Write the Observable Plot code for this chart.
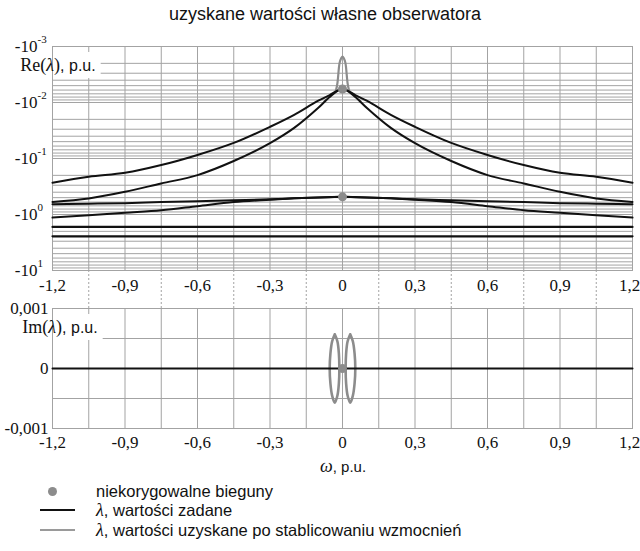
<!DOCTYPE html>
<html><head><meta charset="utf-8">
<script src="https://cdn.jsdelivr.net/npm/d3@7"></script>
<script src="https://cdn.jsdelivr.net/npm/@observablehq/plot@0.6"></script>
<style>
body{margin:0;background:#fff;}
#root{position:relative;width:640px;height:551px;overflow:hidden;background:#fff;}
.abs{position:absolute;white-space:nowrap;}
.sans{font-family:"Liberation Sans",Arial,sans-serif;}
.serif{font-family:"Liberation Serif","Times New Roman",serif;}
</style></head><body><div id="root"></div>
<script>
// ---- data ----
const omega = [-1.2,-1.05,-0.9,-0.75,-0.6,-0.45,-0.3,-0.2,-0.1,-0.05,0,0.05,0.1,0.2,0.3,0.45,0.6,0.75,0.9,1.05,1.2];
const reA = [0.272,0.212,0.180,0.131,0.0865,0.0527,0.0272,0.0166,0.0093,0.00726,0.00574,0.00726,0.0093,0.0166,0.0272,0.0527,0.0865,0.131,0.180,0.212,0.272];
const reB = [0.596,0.518,0.394,0.279,0.198,0.111,0.0533,0.0284,0.0124,0.00778,0.00574,0.00778,0.0124,0.0284,0.0533,0.111,0.198,0.279,0.394,0.518,0.596];
const reC = [0.655,0.64,0.628,0.60,0.578,0.555,0.535,0.515,0.497,0.49,0.484,0.49,0.497,0.515,0.535,0.555,0.578,0.60,0.628,0.64,0.655];
const reD = [1.135,1.03,0.93,0.84,0.71,0.60,0.545,0.515,0.495,0.488,0.484,0.488,0.495,0.515,0.545,0.60,0.71,0.84,0.93,1.03,1.135];
const omegaEnds = [-1.2, 1.2];
const reE = [1.67, 1.67];
const reF = [2.45, 2.45];
const omegaSpike = [-0.05,-0.03,-0.022,-0.012,-0.005,0,0.005,0.012,0.022,0.03,0.05];
const reSpike = [0.0073,0.0064,0.0048,0.00196,0.0016,0.00151,0.0016,0.00196,0.0048,0.0064,0.0073];
const poleOmega = [0, 0];
const poleRe = [0.00574, 0.484];
const poleIm = [0];
const imBlack = [0, 0];
const lensLeftOmega = [-0.032,-0.043,-0.05,-0.053,-0.05,-0.043,-0.032,-0.021,-0.015,-0.013,-0.015,-0.021,-0.032];
const lensRightOmega = [0.032,0.043,0.05,0.053,0.05,0.043,0.032,0.021,0.015,0.013,0.015,0.021,0.032];
const lensIm = [0.00057,0.00045,0.00025,0,-0.00025,-0.00045,-0.00057,-0.00045,-0.00025,0,0.00025,0.00045,0.00057];
// ticks
const xTicks = [-1.2,-0.9,-0.6,-0.3,0,0.3,0.6,0.9,1.2];
const xMidTicks = [-1.05,-0.75,-0.45,-0.15,0.15,0.45,0.75,1.05];
const xGrid = [-1.2,-1.05,-0.9,-0.75,-0.6,-0.45,-0.3,-0.15,0,0.15,0.3,0.45,0.6,0.75,0.9,1.05,1.2];
const reTickValues = [0.001,0.01,0.1,1,10];
const reTickExp = ["-3","-2","-1","0","1"];
const imTicks = [-0.001,0,0.001];
const imGrid = [-0.001,-0.0005,0,0.0005,0.001];

// ---- helpers ----
const SERIF = "'Liberation Serif', 'Times New Roman', serif";
const SANS = "'Liberation Sans', Arial, sans-serif";
const GRID = "#a3a3a3";
const BLACK = "#111";
const GRAY = "#8c8c8c";
const fmt = d => String(d).replace(".", ",");
const rows = (xs, ys) => xs.map((x, i) => ({x, y: ys[i]}));
const yGrid = d3.scaleLog().domain([0.001, 10]).ticks(10);
const svgStyle = {background: "transparent", overflow: "visible"};

const root = document.getElementById("root");

// title
const title = document.createElement("div");
title.className = "abs sans";
title.style.cssText = "left:0;width:650px;top:4px;text-align:center;font-size:18px;line-height:20px;color:#111;";
title.textContent = "uzyskane wartości własne obserwatora";
root.appendChild(title);

// ---- top panel ----
const topPlot = Plot.plot({
  width: 640, height: 278,
  marginLeft: 52, marginRight: 8, marginTop: 16, marginBottom: 38,
  style: svgStyle,
  x: {domain: [-1.2, 1.2], label: null},
  y: {type: "log", domain: [0.001, 10], reverse: true, label: null},
  marks: [
    Plot.gridY(yGrid, {stroke: GRID, strokeOpacity: 1}),
    Plot.gridX(xGrid, {stroke: GRID, strokeOpacity: 1}),
    Plot.frame({stroke: GRID}),
    Plot.axisX(xTicks, {tickSize: 0, tickPadding: 8, tickFormat: fmt, label: null}),
    Plot.axisX(xMidTicks, {tickSize: 38, tickFormat: () => "", stroke: GRID, strokeDasharray: "2,2", label: null}),
    Plot.axisY(reTickValues, {tickSize: 0, tickPadding: 15, tickFormat: () => "-10", label: null}),
    Plot.text(reTickValues, {y: d => d, text: (d, i) => reTickExp[i], frameAnchor: "left", dx: -15, dy: -7, textAnchor: "start", fill: "#111", className: "sup"}),
    Plot.line(rows(omegaSpike, reSpike), {x: "x", y: "y", stroke: GRAY, strokeWidth: 2.2, curve: "catmull-rom"}),
    Plot.line(rows(omega, reA), {x: "x", y: "y", stroke: BLACK, strokeWidth: 2, curve: "monotone-x"}),
    Plot.line(rows(omega, reB), {x: "x", y: "y", stroke: BLACK, strokeWidth: 2, curve: "monotone-x"}),
    Plot.line(rows(omega, reC), {x: "x", y: "y", stroke: BLACK, strokeWidth: 2, curve: "monotone-x"}),
    Plot.line(rows(omega, reD), {x: "x", y: "y", stroke: BLACK, strokeWidth: 2, curve: "monotone-x"}),
    Plot.line(rows(omegaEnds, reE), {x: "x", y: "y", stroke: BLACK, strokeWidth: 2.2}),
    Plot.line(rows(omegaEnds, reF), {x: "x", y: "y", stroke: BLACK, strokeWidth: 2.2}),
    Plot.dot(rows(poleOmega, poleRe), {x: "x", y: "y", r: 4.5, fill: GRAY, stroke: "none"})
  ]
});
topPlot.style.position = "absolute";
topPlot.style.left = "0px";
topPlot.style.top = "30px";
root.appendChild(topPlot);

// ---- bottom panel ----
const botPlot = Plot.plot({
  width: 640, height: 160,
  marginLeft: 52, marginRight: 8, marginTop: 8, marginBottom: 32,
  style: svgStyle,
  x: {domain: [-1.2, 1.2], label: null},
  y: {domain: [-0.001, 0.001], label: null},
  marks: [
    Plot.gridY(imGrid, {stroke: GRID, strokeOpacity: 1}),
    Plot.gridX(xGrid, {stroke: GRID, strokeOpacity: 1}),
    Plot.frame({stroke: GRID}),
    Plot.axisX(xTicks, {tickSize: 0, tickPadding: 7, tickFormat: fmt, label: null}),
    Plot.axisY(imTicks, {tickSize: 0, tickPadding: 4, tickFormat: fmt, label: null}),
    Plot.line(rows(lensLeftOmega, lensIm), {x: "x", y: "y", stroke: GRAY, strokeWidth: 2.6, curve: "catmull-rom"}),
    Plot.line(rows(lensRightOmega, lensIm), {x: "x", y: "y", stroke: GRAY, strokeWidth: 2.6, curve: "catmull-rom"}),
    Plot.line(rows(omegaEnds, imBlack), {x: "x", y: "y", stroke: BLACK, strokeWidth: 2}),
    Plot.dot(rows([0], poleIm), {x: "x", y: "y", r: 4.5, fill: GRAY, stroke: "none"})
  ]
});
botPlot.style.position = "absolute";
botPlot.style.left = "0px";
botPlot.style.top = "300px";
root.appendChild(botPlot);

// serif tick labels (force inline style), superscripts smaller, last x label inside the picture
[topPlot, botPlot].forEach(svg => {
  const s = d3.select(svg);
  s.selectAll("text").style("font-family", SERIF).style("font-size", "17px").style("fill", "#111");
  s.selectAll(".sup text, g.sup text").style("font-size", "11px");
  s.selectAll("text").filter(function() { return this.textContent === "1,2"; }).attr("dx", -3);
});

// panel labels with white boxes
function panelLabel(svg, x, y, head) {
  const s = d3.select(svg);
  const rect = s.append("rect").attr("fill", "white");
  const t = s.append("text").attr("x", x).attr("y", y).style("fill", "#111");
  t.append("tspan").style("font-family", SERIF).style("font-size", "18px").text(head + "(");
  t.append("tspan").style("font-family", SERIF).style("font-size", "18px").style("font-style", "italic").text("λ");
  t.append("tspan").style("font-family", SERIF).style("font-size", "18px").text(")");
  t.append("tspan").style("font-family", SANS).style("font-size", "16px").text(", p.u.");
  const b = t.node().getBBox();
  rect.attr("x", 53).attr("y", b.y - 3).attr("width", b.x + b.width + 5 - 53).attr("height", b.height + 5);
}
panelLabel(topPlot, 58, 41, "Re");
panelLabel(botPlot, 60, 33, "Im");

// omega label
const wl = document.createElement("div");
wl.className = "abs";
wl.style.cssText = "left:320px;top:455px;font-size:17px;line-height:22px;color:#111;";
wl.innerHTML = '<span class="serif" style="font-style:italic;font-size:18px">ω</span><span class="sans" style="font-size:15px">, p.u.</span>';
root.appendChild(wl);

// legend
const legend = [
  {type: "dot", y: 491, html: 'niekorygowalne bieguny'},
  {type: "line", color: BLACK, y: 510, html: '<span class="serif" style="font-style:italic;font-size:18px">λ</span>, wartości zadane'},
  {type: "line", color: "#9a9a9a", y: 530, html: '<span class="serif" style="font-style:italic;font-size:18px">λ</span>, wartości uzyskane po stablicowaniu wzmocnień'}
];
legend.forEach(item => {
  const sym = document.createElement("div");
  sym.className = "abs";
  if (item.type === "dot") {
    sym.style.cssText = `left:48px;top:${item.y - 4}px;width:9px;height:9px;border-radius:50%;background:${GRAY};`;
  } else {
    sym.style.cssText = `left:40px;top:${item.y - 1}px;width:35px;height:2px;background:${item.color};`;
  }
  root.appendChild(sym);
  const tx = document.createElement("div");
  tx.className = "abs sans";
  tx.style.cssText = `left:96px;top:${item.y - 11}px;font-size:16.5px;line-height:22px;color:#111;`;
  tx.innerHTML = item.html;
  root.appendChild(tx);
});
</script></body></html>
